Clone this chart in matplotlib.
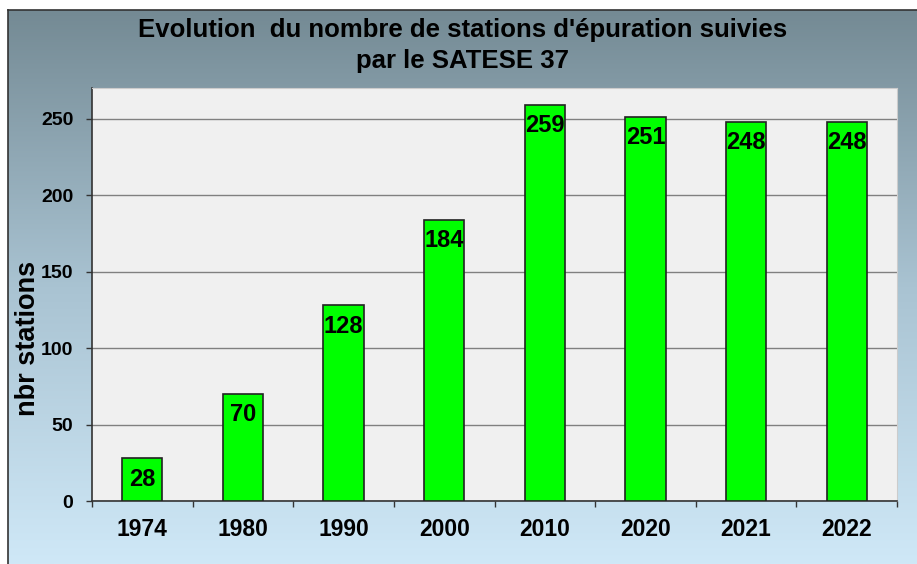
import matplotlib
matplotlib.use("Agg")
import matplotlib.pyplot as plt
import numpy as np
from matplotlib.colors import LinearSegmentedColormap

years = ["1974", "1980", "1990", "2000", "2010", "2020", "2021", "2022"]
stations = [28, 70, 128, 184, 259, 251, 248, 248]
yticks = [0, 50, 100, 150, 200, 250]

plt.rcParams['font.family'] = ['Liberation Sans', 'DejaVu Sans']

W, H = 917, 564
fig = plt.figure(figsize=(W / 100, H / 100), dpi=100)
fig.patch.set_facecolor("white")

# gradient background
bx0, by0 = 8 / W, 0
bx1, by1 = 1.0, (H - 10) / H
bg = fig.add_axes([bx0, by0, bx1 - bx0, by1 - by0], zorder=-10)
cmap = LinearSegmentedColormap.from_list("bg", ["#cfe8f7", "#a9c3d2", "#748a94"])
grad = np.linspace(0, 1, 256).reshape(-1, 1)
bg.imshow(grad, aspect="auto", cmap=cmap, origin="lower", extent=[0, 1, 0, 1])
bg.set_xlim(0, 1)
bg.set_ylim(0, 1)
bg.set_xticks([])
bg.set_yticks([])
for s in ["right", "bottom"]:
    bg.spines[s].set_visible(False)
for s in ["left", "top"]:
    bg.spines[s].set_color("#333333")
    bg.spines[s].set_linewidth(1.2)

# plot area
px0, px1 = 92 / W, 897 / W
py_top, py_bot = 88, 501
ax = fig.add_axes([px0, (H - py_bot) / H, px1 - px0, (py_bot - py_top) / H])
ax.set_facecolor("#f0f0f0")
x = np.arange(len(years))
ax.bar(x, stations, width=0.4, color="#00ff00", edgecolor="#222222", linewidth=1.2, zorder=3)
ax.set_xlim(-0.5, len(years) - 0.5)
ax.set_ylim(0, 270)
ax.set_yticks(yticks)
ax.set_yticklabels([str(t) for t in yticks], fontsize=14, fontweight="bold")
ax.yaxis.grid(True, color="#808080", linewidth=1.0, zorder=0)
ax.set_axisbelow(True)
ax.set_xticks(np.arange(len(years) + 1) - 0.5, minor=False)
ax.set_xticklabels([])
ax.set_xticks(x, minor=True)
ax.set_xticklabels(years, minor=True, fontsize=16.5, fontweight="bold")
ax.tick_params(axis="x", which="minor", length=0, pad=12)
ax.tick_params(axis="x", which="major", length=4.5, width=1, color="#333333", direction="out")
ax.tick_params(axis="y", length=4.5, width=1, color="#333333", direction="out", pad=9)
ax.spines["left"].set_color("#333333")
ax.spines["bottom"].set_color("#333333")
ax.spines["left"].set_linewidth(1.2)
ax.spines["bottom"].set_linewidth(1.2)
ax.spines["top"].set_color("#cccccc")
ax.spines["right"].set_color("#cccccc")

fig.text(28 / W, (H - 338) / H, "nbr stations", rotation=90, ha="center", va="center",
         fontsize=19.5, fontweight="bold")

for xi, v in zip(x, stations):
    ax.annotate(str(v), (xi, v), xytext=(0, -15), textcoords="offset points",
                ha="center", va="center", fontsize=17, fontweight="bold", zorder=4)

fig.text(0.5 * (bx0 + 1), (H - 30) / H, "Evolution  du nombre de stations d'épuration suivies",
         ha="center", va="center", fontsize=18.5, fontweight="bold")
fig.text(0.5 * (bx0 + 1), (H - 61) / H, "par le SATESE 37",
         ha="center", va="center", fontsize=18.5, fontweight="bold")

fig.savefig("out.png", dpi=100, facecolor=fig.get_facecolor())
